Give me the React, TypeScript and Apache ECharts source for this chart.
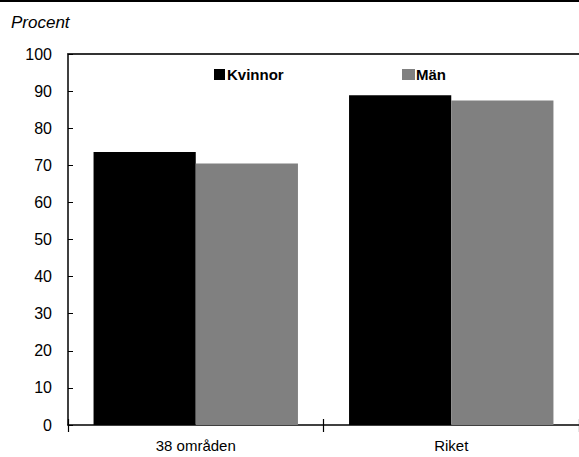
import React, { useEffect, useRef } from "react";
import * as echarts from "echarts";

const categories = ["38 områden", "Riket"];
const kvinnor = [73.6, 88.9];
const man = [70.5, 87.5];
const yTicks = { min: 0, max: 100, interval: 10 };

const FONT = "Liberation Sans";

export default function App() {
  const ref = useRef<HTMLDivElement>(null);
  useEffect(() => {
    if (!ref.current) return;
    const chart = echarts.init(ref.current, undefined, { renderer: "svg" });
    chart.setOption({
      animation: false,
      backgroundColor: "#ffffff",
      graphic: [
        { type: "rect", shape: { x: 0, y: 0, width: 579, height: 2 }, style: { fill: "#000" } },
        {
          type: "text",
          left: 11,
          top: 14,
          style: { text: "Procent", fontFamily: FONT, fontStyle: "italic", fontSize: 17, fill: "#000" },
        },
      ],
      legend: [
        {
          data: ["Kvinnor"],
          left: 209,
          top: 62,
          itemWidth: 11,
          itemHeight: 11,
          itemGap: 4,
          icon: "rect",
          textStyle: { fontFamily: FONT, fontWeight: "bold", fontSize: 15, color: "#000", padding: [0, 0, 0, -3] },
        },
        {
          data: ["Män"],
          left: 397,
          top: 62,
          itemWidth: 13,
          itemHeight: 11,
          icon: "rect",
          textStyle: { fontFamily: FONT, fontWeight: "bold", fontSize: 15, color: "#000", padding: [0, 0, 0, -4] },
        },
      ],
      grid: { left: 68, right: 0, top: 54, bottom: 32, containLabel: false },
      xAxis: [
        {
          type: "category",
          data: categories,
          position: "bottom",
          axisLine: { show: true, lineStyle: { color: "#000", width: 1.5 } },
          axisTick: { show: true, inside: false, length: 7, lineStyle: { color: "#000", width: 1.2 } },
          axisLabel: { color: "#000", fontFamily: FONT, fontSize: 15, margin: 13 },
          splitLine: { show: false },
        },
        {
          type: "category",
          data: categories,
          position: "bottom",
          axisLine: { show: false },
          axisTick: { show: true, inside: true, length: 6, lineStyle: { color: "#000", width: 1.2 } },
          axisLabel: { show: false },
          splitLine: { show: false },
        },
        {
          type: "category",
          data: categories,
          position: "top",
          axisLine: { show: true, lineStyle: { color: "#333", width: 2 } },
          axisTick: { show: false },
          axisLabel: { show: false },
          splitLine: { show: false },
        },
      ],
      yAxis: {
        type: "value",
        min: yTicks.min,
        max: yTicks.max,
        interval: yTicks.interval,
        axisLine: { show: true, lineStyle: { color: "#000", width: 1.5 } },
        axisTick: { show: true, inside: true, length: 5, lineStyle: { color: "#000" } },
        axisLabel: { color: "#000", fontFamily: FONT, fontSize: 16, margin: 16 },
        splitLine: { show: false },
      },
      series: [
        {
          name: "Kvinnor",
          type: "bar",
          data: kvinnor,
          barGap: "0%",
          barCategoryGap: "20%",
          itemStyle: { color: "#000000" },
        },
        {
          name: "Män",
          type: "bar",
          data: man,
          barGap: "0%",
          barCategoryGap: "20%",
          itemStyle: { color: "#808080" },
        },
      ],
    });
    return () => chart.dispose();
  }, []);
  return (
    <div
      ref={ref}
      style={{ position: "fixed", left: 0, top: 0, width: 579, height: 457, background: "#fff" }}
    />
  );
}
